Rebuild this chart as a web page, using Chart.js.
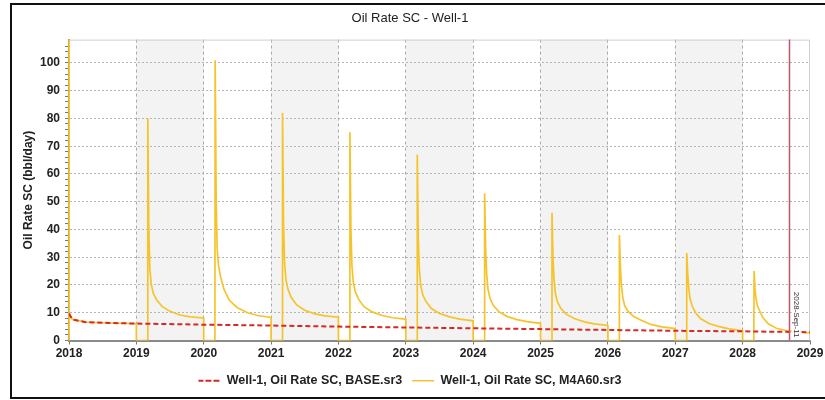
<!DOCTYPE html>
<html>
<head>
<meta charset="utf-8">
<title>Oil Rate SC - Well-1</title>
<script src="https://cdn.jsdelivr.net/npm/chart.js@4/dist/chart.umd.min.js"></script>
<style>
    html, body { margin: 0; padding: 0; background: #fff; overflow: hidden; }
    #wrap { position: relative; width: 825px; height: 400px; }
    #frame { position: absolute; left: 10px; top: 3px; width: 830px; height: 392px; border: 2px solid #111; pointer-events: none; }
    canvas { position: absolute; left: 0; top: 0; }
</style>
</head>
<body>
<div id="wrap">
    <canvas id="chart" width="825" height="400"></canvas>
    <div id="frame"></div>
</div>
<script>
// Axis ranges and tick labels
const xMin = 2018;
const xMax = 2029;
const yMax = 108.4;
const shadedYears = [2019, 2021, 2023, 2025, 2027];
const markerDate = 2028.694;
const markerLabel = '2028-Sep-11';

// BASE case (red dashed)
const baseTimes = [2018, 2018.05, 2018.25, 2018.6, 2019, 2020, 2021, 2022, 2023, 2024, 2025, 2026, 2027, 2028, 2029];
const baseRates = [9.7, 7.6, 6.6, 6.3, 6.1, 5.7, 5.4, 5.0, 4.7, 4.4, 4.1, 3.8, 3.5, 3.3, 3.0];

// M4A60 case (yellow): first year before the first shut-in
const firstYearTimes = [2018, 2018, 2018.004, 2018.05, 2018.25, 2018.6, 2018.999];
const firstYearRates = [0, 110, 9.7, 7.6, 6.6, 6.3, 6.1];

// Yearly cycles: shut-in at Jan 1, restart with a spike, then decline
const cycleYears = [2019, 2020, 2021, 2022, 2023, 2024, 2025, 2026, 2027, 2028];
const restartOffset = 0.166;
const cycleOffsets = [0.17, 0.185, 0.2, 0.22, 0.25, 0.3, 0.38, 0.5, 0.65, 0.8, 0.999];
const rates2019 = [80, 40, 26, 20.5, 17, 14.7, 12.3, 10.5, 9.2, 8.5, 8.1];
const rates2020 = [101, 50, 33, 27, 23, 18.5, 14.5, 11.8, 10.0, 9.0, 8.3];
const rates2021 = [82, 42, 28, 22, 18.5, 15.5, 12.8, 10.9, 9.6, 8.9, 8.4];
const rates2022 = [75, 40, 27, 21, 17.5, 14.8, 12.2, 10.3, 9.0, 8.2, 7.7];
const rates2023 = [67, 37, 26, 20, 16.5, 14, 11.5, 9.7, 8.5, 7.7, 7.1];
const rates2024 = [53, 33, 24, 18.5, 15.2, 12.6, 10.4, 8.7, 7.5, 6.8, 6.2];
const rates2025 = [46, 30, 22, 17, 14, 11.6, 9.5, 7.9, 6.7, 6.0, 5.4];
const rates2026 = [38, 27, 20, 15.5, 12.5, 10.5, 8.7, 7.2, 5.7, 4.9, 4.3];
const rates2027 = [31.5, 24, 19, 15, 12.5, 10, 7.8, 6.1, 5.0, 4.2, 3.5];
const rates2028 = [25, 18, 15, 12.5, 10.8, 8.3, 6, 4.4, 3.6, 3.1, 2.7];
const cycleRates = [rates2019, rates2020, rates2021, rates2022, rates2023, rates2024, rates2025, rates2026, rates2027, rates2028];

const FONT = 'Arial, "Liberation Sans", sans-serif';

// Build point lists
function buildBase() {
    return baseTimes.map((t, i) => ({ x: t, y: baseRates[i] }));
}

function buildM4A60() {
    const pts = firstYearTimes.map((t, i) => ({ x: t, y: firstYearRates[i] }));
    cycleYears.forEach((yr, i) => {
        pts.push({ x: yr, y: 0 });
        pts.push({ x: yr + restartOffset, y: 0 });
        cycleOffsets.forEach((o, j) => pts.push({ x: yr + o, y: cycleRates[i][j] }));
    });
    return pts;
}

// Shaded year bands behind the grid
const bandsPlugin = {
    id: 'bands',
    beforeDraw(chart) {
        const { ctx, chartArea: a, scales: { x } } = chart;
        ctx.save();
        ctx.fillStyle = '#f3f3f3';
        shadedYears.forEach(yr => {
            const l = x.getPixelForValue(yr);
            const r = x.getPixelForValue(yr + 1);
            ctx.fillRect(l, a.top, r - l, a.bottom - a.top);
        });
        ctx.restore();
    }
};

// Light top / right border of the plot
const framePlugin = {
    id: 'plotFrame',
    beforeDatasetsDraw(chart) {
        const { ctx, chartArea: a } = chart;
        ctx.save();
        ctx.strokeStyle = '#cfcfcf';
        ctx.lineWidth = 1;
        ctx.beginPath();
        ctx.moveTo(a.left, a.top + 0.5);
        ctx.lineTo(a.right - 0.5, a.top + 0.5);
        ctx.lineTo(a.right - 0.5, a.bottom);
        ctx.stroke();
        ctx.restore();
    }
};

// Vertical date marker with rotated label
const markerPlugin = {
    id: 'marker',
    afterDatasetsDraw(chart) {
        const { ctx, chartArea: a, scales: { x } } = chart;
        const px = Math.round(x.getPixelForValue(markerDate)) + 0.5;
        ctx.save();
        ctx.strokeStyle = '#c2566a';
        ctx.lineWidth = 1.5;
        ctx.beginPath();
        ctx.moveTo(px, a.top);
        ctx.lineTo(px, a.bottom);
        ctx.stroke();

        ctx.translate(px + 7, a.bottom - 3);
        ctx.rotate(Math.PI / 2);
        ctx.font = '8px ' + FONT;
        const w = ctx.measureText(markerLabel).width;
        ctx.fillStyle = 'rgba(255,255,255,0.9)';
        ctx.fillRect(-w - 2, -5, w + 3, 10);
        ctx.fillStyle = '#333';
        ctx.textAlign = 'right';
        ctx.textBaseline = 'middle';
        ctx.fillText(markerLabel, 0, 0);
        ctx.restore();
    }
};

function initChart() {
    const ctx = document.getElementById('chart').getContext('2d');
    new Chart(ctx, {
        type: 'line',
        data: {
            datasets: [
                {
                    label: 'Well-1, Oil Rate SC, BASE.sr3',
                    data: buildBase(),
                    borderColor: '#d42a24',
                    backgroundColor: '#d42a24',
                    borderWidth: 2,
                    borderDash: [5, 3],
                    pointRadius: 0,
                    tension: 0
                },
                {
                    label: 'Well-1, Oil Rate SC, M4A60.sr3',
                    data: buildM4A60(),
                    borderColor: '#f6c42a',
                    backgroundColor: '#f6c42a',
                    borderWidth: 1.7,
                    pointRadius: 0,
                    tension: 0,
                    clip: { left: 2, top: 0, right: 0, bottom: 0 }
                }
            ]
        },
        options: {
            responsive: false,
            animation: false,
            layout: { padding: { left: 10, right: 15, top: 0, bottom: 3 } },
            plugins: {
                title: {
                    display: true,
                    text: 'Oil Rate SC - Well-1',
                    color: '#222',
                    font: { family: FONT, size: 13, weight: 'normal' },
                    padding: { top: 11, bottom: 13 }
                },
                legend: {
                    position: 'bottom',
                    labels: {
                        color: '#222',
                        font: { family: FONT, size: 12.5, weight: 'bold' },
                        boxWidth: 22,
                        boxHeight: 0,
                        padding: 10
                    }
                },
                tooltip: { enabled: false }
            },
            scales: {
                x: {
                    type: 'linear',
                    min: xMin,
                    max: xMax,
                    afterFit: s => { s.height = 24; s.paddingLeft = 0; s.paddingRight = 0; },
                    ticks: {
                        stepSize: 1,
                        autoSkip: false,
                        maxRotation: 0,
                        padding: 2,
                        color: '#222',
                        font: { family: FONT, size: 12, weight: 'bold' },
                        callback: v => String(v)
                    },
                    grid: {
                        color: c => (c.tick && (c.tick.value === xMin || c.tick.value === xMax)) ? 'rgba(0,0,0,0)' : '#a9a9a9',
                        tickColor: '#777',
                        tickLength: 4
                    },
                    border: { color: '#8a8a8a', width: 2, dash: [3, 3] }
                },
                y: {
                    min: 0,
                    max: yMax,
                    afterBuildTicks: s => { s.ticks = s.ticks.filter(t => Math.abs(t.value % 2) < 1e-6); },
                    afterFit: s => { s.width = 59; s.paddingTop = 0; s.paddingBottom = 0; },
                    title: {
                        display: true,
                        text: 'Oil Rate SC (bbl/day)',
                        color: '#222',
                        font: { family: FONT, size: 12, weight: 'bold' },
                        padding: { top: 11, bottom: 0 }
                    },
                    ticks: {
                        stepSize: 2,
                        autoSkip: false,
                        padding: 5,
                        color: '#222',
                        font: { family: FONT, size: 12, weight: 'bold' },
                        callback: v => (v % 10 === 0 ? String(v) : '')
                    },
                    grid: {
                        color: c => (c.tick && c.tick.value % 10 === 0 && c.tick.value > 0) ? '#b4b4b4' : 'rgba(0,0,0,0)',
                        tickColor: '#777',
                        tickLength: 4
                    },
                    border: { color: '#8a8a8a', width: 2, dash: [2, 2] }
                }
            }
        },
        plugins: [bandsPlugin, framePlugin, markerPlugin]
    });
}

initChart();
</script>
</body>
</html>
